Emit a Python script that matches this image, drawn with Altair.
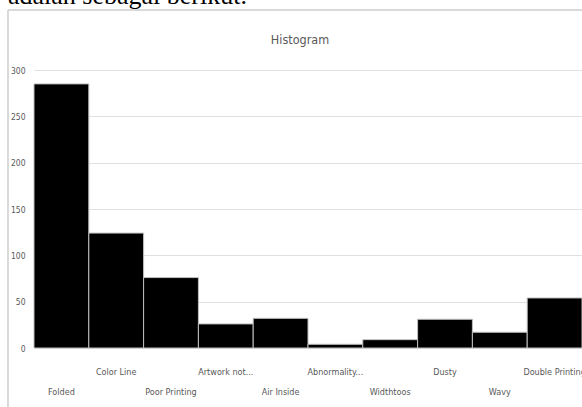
import altair as alt
import pandas as pd

categories = ["Folded", "Color Line", "Poor Printing", "Artwork not...", "Air Inside",
              "Abnormality...", "Widthtoos", "Dusty", "Wavy", "Double Printing"]
values = [285, 124, 76, 26, 32, 4, 9, 31, 17, 54]
y_ticks = [0, 50, 100, 150, 200, 250, 300]

df = pd.DataFrame({"category": categories, "value": values})
df["row"] = [i % 2 for i in range(len(df))]

FONT = "DejaVu Sans Condensed, sans-serif"
GRAY = "#595959"

x = alt.X("category:N", sort=categories,
          scale=alt.Scale(paddingInner=0, paddingOuter=0), axis=None)

bars = alt.Chart(df).mark_bar(color="black", stroke="#bfbfbf", strokeWidth=1).encode(
    x=x,
    y=alt.Y("value:Q", scale=alt.Scale(domain=[0, 300], nice=False),
            axis=alt.Axis(values=y_ticks, title=None, grid=True, gridColor="#e0e0e0",
                          domain=False, ticks=False, labelPadding=9,
                          labelFont=FONT, labelFontSize=8.5, labelColor=GRAY)),
)

lab_upper = alt.Chart(df).transform_filter("datum.row == 1").mark_text(
    font=FONT, fontSize=9, color=GRAY, baseline="middle", align="center"
).encode(x=x, y=alt.value(302), text="category:N")

lab_lower = alt.Chart(df).transform_filter("datum.row == 0").mark_text(
    font=FONT, fontSize=9, color=GRAY, baseline="middle", align="center"
).encode(x=x, y=alt.value(322), text="category:N")

frame_left = alt.Chart(df).mark_rule(color="#d9d9d9", strokeWidth=1).encode(
    x=alt.value(-26), y=alt.value(-60), y2=alt.value(340))
frame_top = alt.Chart(df).mark_rule(color="#d9d9d9", strokeWidth=1).encode(
    x=alt.value(-26), x2=alt.value(560), y=alt.value(-60))

head_text = alt.Chart(pd.DataFrame({"t": ["adalah sebagai berikut."]})).mark_text(
    font="Liberation Serif", fontSize=26, color="black", align="left", baseline="alphabetic"
).encode(x=alt.value(-26), y=alt.value(-66), text="t:N")

title_text = alt.Chart(pd.DataFrame({"t": ["Histogram"]})).mark_text(
    font=FONT, fontSize=12.5, color=GRAY, align="center", baseline="middle"
).encode(x=alt.value(266), y=alt.value(-30), text="t:N")

chart = alt.layer(bars, lab_upper, lab_lower, frame_left, frame_top, head_text, title_text).properties(
    width=548, height=278,
    autosize=alt.AutoSizeParams(type="none"),
    padding={"left": 34, "top": 70, "right": 0, "bottom": 59},
).configure_view(stroke=None)

chart.save("out.html", embed_options={"renderer": "svg", "actions": False})
